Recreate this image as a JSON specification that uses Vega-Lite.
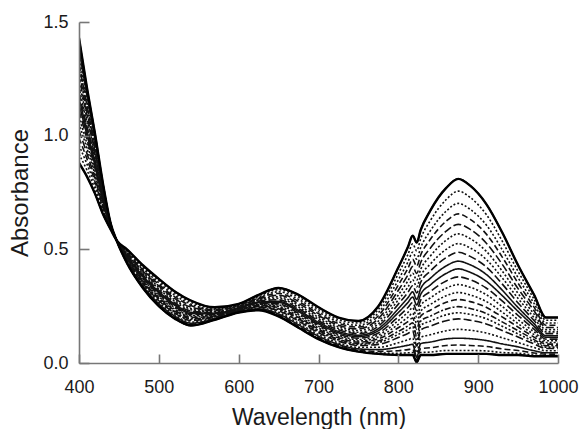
{
"$schema":"https://vega.github.io/schema/vega-lite/v6.json",
"autosize":{"type":"none"},
"width":479,"height":341,
"padding":{"left":79,"top":22,"right":23,"bottom":66},
"background":"white",
"config":{"view":{"stroke":null}},
"data":{"values":[
{"s":0,"w":400,"a":1.43},{"s":0,"w":410,"a":1.21},{"s":0,"w":420,"a":1.01},{"s":0,"w":430,"a":0.79},{"s":0,"w":440,"a":0.61},{"s":0,"w":447,"a":0.54},{"s":0,"w":460,"a":0.44},{"s":0,"w":480,"a":0.33},{"s":0,"w":500,"a":0.25},{"s":0,"w":520,"a":0.195},{"s":0,"w":540,"a":0.165},{"s":0,"w":570,"a":0.19},{"s":0,"w":600,"a":0.222},{"s":0,"w":625,"a":0.232},{"s":0,"w":650,"a":0.205},{"s":0,"w":675,"a":0.155},{"s":0,"w":700,"a":0.105},{"s":0,"w":725,"a":0.07},{"s":0,"w":750,"a":0.05},{"s":0,"w":775,"a":0.04},{"s":0,"w":800,"a":0.035},{"s":0,"w":812,"a":0.035},{"s":0,"w":818,"a":0.035},{"s":0,"w":823,"a":0.003},{"s":0,"w":828,"a":0.035},{"s":0,"w":840,"a":0.035},{"s":0,"w":860,"a":0.04},{"s":0,"w":875,"a":0.04},{"s":0,"w":890,"a":0.04},{"s":0,"w":910,"a":0.04},{"s":0,"w":930,"a":0.035},{"s":0,"w":950,"a":0.035},{"s":0,"w":970,"a":0.03},{"s":0,"w":985,"a":0.03},{"s":0,"w":1000,"a":0.03},
{"s":1,"w":400,"a":1.419},{"s":1,"w":410,"a":1.202},{"s":1,"w":420,"a":1.005},{"s":1,"w":430,"a":0.787},{"s":1,"w":440,"a":0.61},{"s":1,"w":447,"a":0.54},{"s":1,"w":460,"a":0.441},{"s":1,"w":480,"a":0.332},{"s":1,"w":500,"a":0.252},{"s":1,"w":520,"a":0.197},{"s":1,"w":540,"a":0.167},{"s":1,"w":570,"a":0.191},{"s":1,"w":600,"a":0.223},{"s":1,"w":625,"a":0.233},{"s":1,"w":650,"a":0.208},{"s":1,"w":675,"a":0.158},{"s":1,"w":700,"a":0.108},{"s":1,"w":725,"a":0.073},{"s":1,"w":750,"a":0.053},{"s":1,"w":775,"a":0.044},{"s":1,"w":800,"a":0.043},{"s":1,"w":812,"a":0.045},{"s":1,"w":818,"a":0.046},{"s":1,"w":823,"a":0.006},{"s":1,"w":828,"a":0.046},{"s":1,"w":840,"a":0.048},{"s":1,"w":860,"a":0.055},{"s":1,"w":875,"a":0.055},{"s":1,"w":890,"a":0.055},{"s":1,"w":910,"a":0.053},{"s":1,"w":930,"a":0.046},{"s":1,"w":950,"a":0.043},{"s":1,"w":970,"a":0.035},{"s":1,"w":985,"a":0.033},{"s":1,"w":1000,"a":0.033},
{"s":2,"w":400,"a":1.403},{"s":2,"w":410,"a":1.191},{"s":2,"w":420,"a":0.997},{"s":2,"w":430,"a":0.783},{"s":2,"w":440,"a":0.609},{"s":2,"w":447,"a":0.54},{"s":2,"w":460,"a":0.443},{"s":2,"w":480,"a":0.335},{"s":2,"w":500,"a":0.256},{"s":2,"w":520,"a":0.201},{"s":2,"w":540,"a":0.171},{"s":2,"w":570,"a":0.193},{"s":2,"w":600,"a":0.224},{"s":2,"w":625,"a":0.235},{"s":2,"w":650,"a":0.211},{"s":2,"w":675,"a":0.162},{"s":2,"w":700,"a":0.112},{"s":2,"w":725,"a":0.077},{"s":2,"w":750,"a":0.057},{"s":2,"w":775,"a":0.051},{"s":2,"w":800,"a":0.054},{"s":2,"w":812,"a":0.059},{"s":2,"w":818,"a":0.061},{"s":2,"w":823,"a":0.012},{"s":2,"w":828,"a":0.063},{"s":2,"w":840,"a":0.067},{"s":2,"w":860,"a":0.077},{"s":2,"w":875,"a":0.079},{"s":2,"w":890,"a":0.077},{"s":2,"w":910,"a":0.073},{"s":2,"w":930,"a":0.062},{"s":2,"w":950,"a":0.055},{"s":2,"w":970,"a":0.044},{"s":2,"w":985,"a":0.039},{"s":2,"w":1000,"a":0.039},
{"s":3,"w":400,"a":1.381},{"s":3,"w":410,"a":1.175},{"s":3,"w":420,"a":0.986},{"s":3,"w":430,"a":0.778},{"s":3,"w":440,"a":0.608},{"s":3,"w":447,"a":0.54},{"s":3,"w":460,"a":0.445},{"s":3,"w":480,"a":0.339},{"s":3,"w":500,"a":0.261},{"s":3,"w":520,"a":0.206},{"s":3,"w":540,"a":0.175},{"s":3,"w":570,"a":0.195},{"s":3,"w":600,"a":0.225},{"s":3,"w":625,"a":0.238},{"s":3,"w":650,"a":0.216},{"s":3,"w":675,"a":0.168},{"s":3,"w":700,"a":0.118},{"s":3,"w":725,"a":0.082},{"s":3,"w":750,"a":0.062},{"s":3,"w":775,"a":0.059},{"s":3,"w":800,"a":0.07},{"s":3,"w":812,"a":0.078},{"s":3,"w":818,"a":0.082},{"s":3,"w":823,"a":0.025},{"s":3,"w":828,"a":0.085},{"s":3,"w":840,"a":0.092},{"s":3,"w":860,"a":0.106},{"s":3,"w":875,"a":0.109},{"s":3,"w":890,"a":0.107},{"s":3,"w":910,"a":0.099},{"s":3,"w":930,"a":0.084},{"s":3,"w":950,"a":0.071},{"s":3,"w":970,"a":0.054},{"s":3,"w":985,"a":0.045},{"s":3,"w":1000,"a":0.045},
{"s":4,"w":400,"a":1.353},{"s":4,"w":410,"a":1.155},{"s":4,"w":420,"a":0.973},{"s":4,"w":430,"a":0.771},{"s":4,"w":440,"a":0.607},{"s":4,"w":447,"a":0.54},{"s":4,"w":460,"a":0.448},{"s":4,"w":480,"a":0.344},{"s":4,"w":500,"a":0.267},{"s":4,"w":520,"a":0.212},{"s":4,"w":540,"a":0.18},{"s":4,"w":570,"a":0.198},{"s":4,"w":600,"a":0.227},{"s":4,"w":625,"a":0.242},{"s":4,"w":650,"a":0.223},{"s":4,"w":675,"a":0.175},{"s":4,"w":700,"a":0.125},{"s":4,"w":725,"a":0.088},{"s":4,"w":750,"a":0.069},{"s":4,"w":775,"a":0.069},{"s":4,"w":800,"a":0.089},{"s":4,"w":812,"a":0.102},{"s":4,"w":818,"a":0.109},{"s":4,"w":823,"a":0.045},{"s":4,"w":828,"a":0.112},{"s":4,"w":840,"a":0.124},{"s":4,"w":860,"a":0.142},{"s":4,"w":875,"a":0.148},{"s":4,"w":890,"a":0.144},{"s":4,"w":910,"a":0.132},{"s":4,"w":930,"a":0.111},{"s":4,"w":950,"a":0.09},{"s":4,"w":970,"a":0.068},{"s":4,"w":985,"a":0.054},{"s":4,"w":1000,"a":0.054},
{"s":5,"w":400,"a":1.32},{"s":5,"w":410,"a":1.132},{"s":5,"w":420,"a":0.957},{"s":5,"w":430,"a":0.763},{"s":5,"w":440,"a":0.605},{"s":5,"w":447,"a":0.54},{"s":5,"w":460,"a":0.452},{"s":5,"w":480,"a":0.35},{"s":5,"w":500,"a":0.274},{"s":5,"w":520,"a":0.219},{"s":5,"w":540,"a":0.187},{"s":5,"w":570,"a":0.201},{"s":5,"w":600,"a":0.23},{"s":5,"w":625,"a":0.246},{"s":5,"w":650,"a":0.23},{"s":5,"w":675,"a":0.184},{"s":5,"w":700,"a":0.133},{"s":5,"w":725,"a":0.096},{"s":5,"w":750,"a":0.077},{"s":5,"w":775,"a":0.082},{"s":5,"w":800,"a":0.112},{"s":5,"w":812,"a":0.13},{"s":5,"w":818,"a":0.14},{"s":5,"w":823,"a":0.075},{"s":5,"w":828,"a":0.145},{"s":5,"w":840,"a":0.162},{"s":5,"w":860,"a":0.186},{"s":5,"w":875,"a":0.194},{"s":5,"w":890,"a":0.188},{"s":5,"w":910,"a":0.172},{"s":5,"w":930,"a":0.143},{"s":5,"w":950,"a":0.114},{"s":5,"w":970,"a":0.084},{"s":5,"w":985,"a":0.064},{"s":5,"w":1000,"a":0.064},
{"s":6,"w":400,"a":1.282},{"s":6,"w":410,"a":1.105},{"s":6,"w":420,"a":0.938},{"s":6,"w":430,"a":0.754},{"s":6,"w":440,"a":0.603},{"s":6,"w":447,"a":0.54},{"s":6,"w":460,"a":0.456},{"s":6,"w":480,"a":0.357},{"s":6,"w":500,"a":0.282},{"s":6,"w":520,"a":0.227},{"s":6,"w":540,"a":0.195},{"s":6,"w":570,"a":0.205},{"s":6,"w":600,"a":0.232},{"s":6,"w":625,"a":0.25},{"s":6,"w":650,"a":0.239},{"s":6,"w":675,"a":0.194},{"s":6,"w":700,"a":0.143},{"s":6,"w":725,"a":0.105},{"s":6,"w":750,"a":0.086},{"s":6,"w":775,"a":0.097},{"s":6,"w":800,"a":0.139},{"s":6,"w":812,"a":0.163},{"s":6,"w":818,"a":0.177},{"s":6,"w":823,"a":0.12},{"s":6,"w":828,"a":0.184},{"s":6,"w":840,"a":0.206},{"s":6,"w":860,"a":0.237},{"s":6,"w":875,"a":0.248},{"s":6,"w":890,"a":0.24},{"s":6,"w":910,"a":0.218},{"s":6,"w":930,"a":0.181},{"s":6,"w":950,"a":0.142},{"s":6,"w":970,"a":0.103},{"s":6,"w":985,"a":0.076},{"s":6,"w":1000,"a":0.076},
{"s":7,"w":400,"a":1.238},{"s":7,"w":410,"a":1.074},{"s":7,"w":420,"a":0.917},{"s":7,"w":430,"a":0.743},{"s":7,"w":440,"a":0.601},{"s":7,"w":447,"a":0.54},{"s":7,"w":460,"a":0.461},{"s":7,"w":480,"a":0.365},{"s":7,"w":500,"a":0.292},{"s":7,"w":520,"a":0.237},{"s":7,"w":540,"a":0.204},{"s":7,"w":570,"a":0.209},{"s":7,"w":600,"a":0.235},{"s":7,"w":625,"a":0.256},{"s":7,"w":650,"a":0.249},{"s":7,"w":675,"a":0.206},{"s":7,"w":700,"a":0.154},{"s":7,"w":725,"a":0.116},{"s":7,"w":750,"a":0.097},{"s":7,"w":775,"a":0.114},{"s":7,"w":800,"a":0.17},{"s":7,"w":812,"a":0.201},{"s":7,"w":818,"a":0.219},{"s":7,"w":823,"a":0.175},{"s":7,"w":828,"a":0.228},{"s":7,"w":840,"a":0.257},{"s":7,"w":860,"a":0.296},{"s":7,"w":875,"a":0.31},{"s":7,"w":890,"a":0.299},{"s":7,"w":910,"a":0.271},{"s":7,"w":930,"a":0.224},{"s":7,"w":950,"a":0.173},{"s":7,"w":970,"a":0.125},{"s":7,"w":985,"a":0.09},{"s":7,"w":1000,"a":0.09},
{"s":8,"w":400,"a":1.188},{"s":8,"w":410,"a":1.038},{"s":8,"w":420,"a":0.893},{"s":8,"w":430,"a":0.731},{"s":8,"w":440,"a":0.599},{"s":8,"w":447,"a":0.54},{"s":8,"w":460,"a":0.466},{"s":8,"w":480,"a":0.374},{"s":8,"w":500,"a":0.303},{"s":8,"w":520,"a":0.248},{"s":8,"w":540,"a":0.213},{"s":8,"w":570,"a":0.214},{"s":8,"w":600,"a":0.239},{"s":8,"w":625,"a":0.262},{"s":8,"w":650,"a":0.26},{"s":8,"w":675,"a":0.219},{"s":8,"w":700,"a":0.167},{"s":8,"w":725,"a":0.127},{"s":8,"w":750,"a":0.109},{"s":8,"w":775,"a":0.132},{"s":8,"w":800,"a":0.204},{"s":8,"w":812,"a":0.244},{"s":8,"w":818,"a":0.266},{"s":8,"w":823,"a":0.23},{"s":8,"w":828,"a":0.277},{"s":8,"w":840,"a":0.314},{"s":8,"w":860,"a":0.361},{"s":8,"w":875,"a":0.379},{"s":8,"w":890,"a":0.366},{"s":8,"w":910,"a":0.33},{"s":8,"w":930,"a":0.273},{"s":8,"w":950,"a":0.209},{"s":8,"w":970,"a":0.149},{"s":8,"w":985,"a":0.105},{"s":8,"w":1000,"a":0.105},
{"s":9,"w":400,"a":1.139},{"s":9,"w":410,"a":1.003},{"s":9,"w":420,"a":0.87},{"s":9,"w":430,"a":0.718},{"s":9,"w":440,"a":0.597},{"s":9,"w":447,"a":0.54},{"s":9,"w":460,"a":0.472},{"s":9,"w":480,"a":0.383},{"s":9,"w":500,"a":0.314},{"s":9,"w":520,"a":0.259},{"s":9,"w":540,"a":0.223},{"s":9,"w":570,"a":0.219},{"s":9,"w":600,"a":0.242},{"s":9,"w":625,"a":0.268},{"s":9,"w":650,"a":0.271},{"s":9,"w":675,"a":0.232},{"s":9,"w":700,"a":0.179},{"s":9,"w":725,"a":0.139},{"s":9,"w":750,"a":0.122},{"s":9,"w":775,"a":0.151},{"s":9,"w":800,"a":0.239},{"s":9,"w":812,"a":0.287},{"s":9,"w":818,"a":0.313},{"s":9,"w":823,"a":0.28},{"s":9,"w":828,"a":0.327},{"s":9,"w":840,"a":0.372},{"s":9,"w":860,"a":0.427},{"s":9,"w":875,"a":0.448},{"s":9,"w":890,"a":0.432},{"s":9,"w":910,"a":0.39},{"s":9,"w":930,"a":0.321},{"s":9,"w":950,"a":0.244},{"s":9,"w":970,"a":0.173},{"s":9,"w":985,"a":0.12},{"s":9,"w":1000,"a":0.12},
{"s":10,"w":400,"a":1.084},{"s":10,"w":410,"a":0.964},{"s":10,"w":420,"a":0.843},{"s":10,"w":430,"a":0.705},{"s":10,"w":440,"a":0.594},{"s":10,"w":447,"a":0.54},{"s":10,"w":460,"a":0.478},{"s":10,"w":480,"a":0.393},{"s":10,"w":500,"a":0.326},{"s":10,"w":520,"a":0.271},{"s":10,"w":540,"a":0.234},{"s":10,"w":570,"a":0.225},{"s":10,"w":600,"a":0.246},{"s":10,"w":625,"a":0.275},{"s":10,"w":650,"a":0.284},{"s":10,"w":675,"a":0.246},{"s":10,"w":700,"a":0.193},{"s":10,"w":725,"a":0.152},{"s":10,"w":750,"a":0.135},{"s":10,"w":775,"a":0.172},{"s":10,"w":800,"a":0.278},{"s":10,"w":812,"a":0.334},{"s":10,"w":818,"a":0.366},{"s":10,"w":823,"a":0.335},{"s":10,"w":828,"a":0.382},{"s":10,"w":840,"a":0.435},{"s":10,"w":860,"a":0.5},{"s":10,"w":875,"a":0.525},{"s":10,"w":890,"a":0.506},{"s":10,"w":910,"a":0.456},{"s":10,"w":930,"a":0.375},{"s":10,"w":950,"a":0.284},{"s":10,"w":970,"a":0.2},{"s":10,"w":985,"a":0.137},{"s":10,"w":1000,"a":0.137},
{"s":11,"w":400,"a":1.023},{"s":11,"w":410,"a":0.921},{"s":11,"w":420,"a":0.814},{"s":11,"w":430,"a":0.69},{"s":11,"w":440,"a":0.592},{"s":11,"w":447,"a":0.54},{"s":11,"w":460,"a":0.484},{"s":11,"w":480,"a":0.404},{"s":11,"w":500,"a":0.339},{"s":11,"w":520,"a":0.284},{"s":11,"w":540,"a":0.246},{"s":11,"w":570,"a":0.231},{"s":11,"w":600,"a":0.25},{"s":11,"w":625,"a":0.282},{"s":11,"w":650,"a":0.298},{"s":11,"w":675,"a":0.262},{"s":11,"w":700,"a":0.209},{"s":11,"w":725,"a":0.166},{"s":11,"w":750,"a":0.15},{"s":11,"w":775,"a":0.195},{"s":11,"w":800,"a":0.32},{"s":11,"w":812,"a":0.387},{"s":11,"w":818,"a":0.424},{"s":11,"w":823,"a":0.394},{"s":11,"w":828,"a":0.442},{"s":11,"w":840,"a":0.505},{"s":11,"w":860,"a":0.58},{"s":11,"w":875,"a":0.61},{"s":11,"w":890,"a":0.588},{"s":11,"w":910,"a":0.528},{"s":11,"w":930,"a":0.435},{"s":11,"w":950,"a":0.327},{"s":11,"w":970,"a":0.23},{"s":11,"w":985,"a":0.156},{"s":11,"w":1000,"a":0.156},
{"s":12,"w":400,"a":0.957},{"s":12,"w":410,"a":0.875},{"s":12,"w":420,"a":0.782},{"s":12,"w":430,"a":0.674},{"s":12,"w":440,"a":0.589},{"s":12,"w":447,"a":0.54},{"s":12,"w":460,"a":0.492},{"s":12,"w":480,"a":0.416},{"s":12,"w":500,"a":0.353},{"s":12,"w":520,"a":0.298},{"s":12,"w":540,"a":0.26},{"s":12,"w":570,"a":0.237},{"s":12,"w":600,"a":0.255},{"s":12,"w":625,"a":0.29},{"s":12,"w":650,"a":0.313},{"s":12,"w":675,"a":0.28},{"s":12,"w":700,"a":0.225},{"s":12,"w":725,"a":0.182},{"s":12,"w":750,"a":0.166},{"s":12,"w":775,"a":0.221},{"s":12,"w":800,"a":0.366},{"s":12,"w":812,"a":0.444},{"s":12,"w":818,"a":0.487},{"s":12,"w":823,"a":0.457},{"s":12,"w":828,"a":0.508},{"s":12,"w":840,"a":0.581},{"s":12,"w":860,"a":0.668},{"s":12,"w":875,"a":0.702},{"s":12,"w":890,"a":0.676},{"s":12,"w":910,"a":0.608},{"s":12,"w":930,"a":0.499},{"s":12,"w":950,"a":0.375},{"s":12,"w":970,"a":0.262},{"s":12,"w":985,"a":0.176},{"s":12,"w":1000,"a":0.176},
{"s":13,"w":400,"a":0.88},{"s":13,"w":410,"a":0.82},{"s":13,"w":420,"a":0.745},{"s":13,"w":430,"a":0.655},{"s":13,"w":440,"a":0.585},{"s":13,"w":447,"a":0.54},{"s":13,"w":460,"a":0.5},{"s":13,"w":480,"a":0.43},{"s":13,"w":500,"a":0.37},{"s":13,"w":520,"a":0.315},{"s":13,"w":540,"a":0.275},{"s":13,"w":570,"a":0.245},{"s":13,"w":600,"a":0.26},{"s":13,"w":625,"a":0.3},{"s":13,"w":650,"a":0.33},{"s":13,"w":675,"a":0.3},{"s":13,"w":700,"a":0.245},{"s":13,"w":725,"a":0.2},{"s":13,"w":750,"a":0.185},{"s":13,"w":775,"a":0.25},{"s":13,"w":800,"a":0.42},{"s":13,"w":812,"a":0.51},{"s":13,"w":818,"a":0.56},{"s":13,"w":823,"a":0.53},{"s":13,"w":828,"a":0.585},{"s":13,"w":840,"a":0.67},{"s":13,"w":860,"a":0.77},{"s":13,"w":875,"a":0.81},{"s":13,"w":890,"a":0.78},{"s":13,"w":910,"a":0.7},{"s":13,"w":930,"a":0.575},{"s":13,"w":950,"a":0.43},{"s":13,"w":970,"a":0.3},{"s":13,"w":985,"a":0.2},{"s":13,"w":1000,"a":0.2},
{"s":14,"w":400,"a":0.919},{"s":14,"w":410,"a":0.848},{"s":14,"w":420,"a":0.764},{"s":14,"w":430,"a":0.665},{"s":14,"w":440,"a":0.587},{"s":14,"w":447,"a":0.54},{"s":14,"w":460,"a":0.496},{"s":14,"w":480,"a":0.423},{"s":14,"w":500,"a":0.362},{"s":14,"w":520,"a":0.307},{"s":14,"w":540,"a":0.268},{"s":14,"w":570,"a":0.241},{"s":14,"w":600,"a":0.258},{"s":14,"w":625,"a":0.295},{"s":14,"w":650,"a":0.322},{"s":14,"w":675,"a":0.29},{"s":14,"w":700,"a":0.235},{"s":14,"w":725,"a":0.191},{"s":14,"w":750,"a":0.176},{"s":14,"w":775,"a":0.236},{"s":14,"w":800,"a":0.393},{"s":14,"w":812,"a":0.477},{"s":14,"w":818,"a":0.524},{"s":14,"w":823,"a":0.494},{"s":14,"w":828,"a":0.547},{"s":14,"w":840,"a":0.626},{"s":14,"w":860,"a":0.719},{"s":14,"w":875,"a":0.756},{"s":14,"w":890,"a":0.728},{"s":14,"w":910,"a":0.654},{"s":14,"w":930,"a":0.537},{"s":14,"w":950,"a":0.403},{"s":14,"w":970,"a":0.281},{"s":14,"w":985,"a":0.188},{"s":14,"w":1000,"a":0.188},
{"s":15,"w":400,"a":0.99},{"s":15,"w":410,"a":0.898},{"s":15,"w":420,"a":0.798},{"s":15,"w":430,"a":0.682},{"s":15,"w":440,"a":0.591},{"s":15,"w":447,"a":0.54},{"s":15,"w":460,"a":0.488},{"s":15,"w":480,"a":0.41},{"s":15,"w":500,"a":0.346},{"s":15,"w":520,"a":0.291},{"s":15,"w":540,"a":0.253},{"s":15,"w":570,"a":0.234},{"s":15,"w":600,"a":0.253},{"s":15,"w":625,"a":0.286},{"s":15,"w":650,"a":0.306},{"s":15,"w":675,"a":0.271},{"s":15,"w":700,"a":0.217},{"s":15,"w":725,"a":0.174},{"s":15,"w":750,"a":0.158},{"s":15,"w":775,"a":0.208},{"s":15,"w":800,"a":0.343},{"s":15,"w":812,"a":0.416},{"s":15,"w":818,"a":0.456},{"s":15,"w":823,"a":0.426},{"s":15,"w":828,"a":0.475},{"s":15,"w":840,"a":0.543},{"s":15,"w":860,"a":0.624},{"s":15,"w":875,"a":0.656},{"s":15,"w":890,"a":0.632},{"s":15,"w":910,"a":0.568},{"s":15,"w":930,"a":0.467},{"s":15,"w":950,"a":0.351},{"s":15,"w":970,"a":0.246},{"s":15,"w":985,"a":0.166},{"s":15,"w":1000,"a":0.166},
{"s":16,"w":400,"a":1.054},{"s":16,"w":410,"a":0.943},{"s":16,"w":420,"a":0.829},{"s":16,"w":430,"a":0.698},{"s":16,"w":440,"a":0.593},{"s":16,"w":447,"a":0.54},{"s":16,"w":460,"a":0.481},{"s":16,"w":480,"a":0.399},{"s":16,"w":500,"a":0.333},{"s":16,"w":520,"a":0.278},{"s":16,"w":540,"a":0.24},{"s":16,"w":570,"a":0.228},{"s":16,"w":600,"a":0.248},{"s":16,"w":625,"a":0.279},{"s":16,"w":650,"a":0.291},{"s":16,"w":675,"a":0.254},{"s":16,"w":700,"a":0.201},{"s":16,"w":725,"a":0.159},{"s":16,"w":750,"a":0.143},{"s":16,"w":775,"a":0.184},{"s":16,"w":800,"a":0.299},{"s":16,"w":812,"a":0.361},{"s":16,"w":818,"a":0.395},{"s":16,"w":823,"a":0.365},{"s":16,"w":828,"a":0.412},{"s":16,"w":840,"a":0.47},{"s":16,"w":860,"a":0.54},{"s":16,"w":875,"a":0.568},{"s":16,"w":890,"a":0.547},{"s":16,"w":910,"a":0.492},{"s":16,"w":930,"a":0.405},{"s":16,"w":950,"a":0.306},{"s":16,"w":970,"a":0.215},{"s":16,"w":985,"a":0.147},{"s":16,"w":1000,"a":0.147},
{"s":17,"w":400,"a":1.112},{"s":17,"w":410,"a":0.984},{"s":17,"w":420,"a":0.857},{"s":17,"w":430,"a":0.712},{"s":17,"w":440,"a":0.596},{"s":17,"w":447,"a":0.54},{"s":17,"w":460,"a":0.475},{"s":17,"w":480,"a":0.388},{"s":17,"w":500,"a":0.32},{"s":17,"w":520,"a":0.265},{"s":17,"w":540,"a":0.229},{"s":17,"w":570,"a":0.222},{"s":17,"w":600,"a":0.244},{"s":17,"w":625,"a":0.272},{"s":17,"w":650,"a":0.278},{"s":17,"w":675,"a":0.239},{"s":17,"w":700,"a":0.186},{"s":17,"w":725,"a":0.146},{"s":17,"w":750,"a":0.129},{"s":17,"w":775,"a":0.162},{"s":17,"w":800,"a":0.259},{"s":17,"w":812,"a":0.311},{"s":17,"w":818,"a":0.34},{"s":17,"w":823,"a":0.308},{"s":17,"w":828,"a":0.355},{"s":17,"w":840,"a":0.404},{"s":17,"w":860,"a":0.464},{"s":17,"w":875,"a":0.487},{"s":17,"w":890,"a":0.469},{"s":17,"w":910,"a":0.423},{"s":17,"w":930,"a":0.348},{"s":17,"w":950,"a":0.264},{"s":17,"w":970,"a":0.187},{"s":17,"w":985,"a":0.129},{"s":17,"w":1000,"a":0.129},
{"s":18,"w":400,"a":1.164},{"s":18,"w":410,"a":1.021},{"s":18,"w":420,"a":0.882},{"s":18,"w":430,"a":0.725},{"s":18,"w":440,"a":0.598},{"s":18,"w":447,"a":0.54},{"s":18,"w":460,"a":0.469},{"s":18,"w":480,"a":0.379},{"s":18,"w":500,"a":0.309},{"s":18,"w":520,"a":0.254},{"s":18,"w":540,"a":0.218},{"s":18,"w":570,"a":0.217},{"s":18,"w":600,"a":0.241},{"s":18,"w":625,"a":0.265},{"s":18,"w":650,"a":0.266},{"s":18,"w":675,"a":0.226},{"s":18,"w":700,"a":0.173},{"s":18,"w":725,"a":0.133},{"s":18,"w":750,"a":0.116},{"s":18,"w":775,"a":0.142},{"s":18,"w":800,"a":0.222},{"s":18,"w":812,"a":0.266},{"s":18,"w":818,"a":0.29},{"s":18,"w":823,"a":0.255},{"s":18,"w":828,"a":0.302},{"s":18,"w":840,"a":0.343},{"s":18,"w":860,"a":0.394},{"s":18,"w":875,"a":0.414},{"s":18,"w":890,"a":0.399},{"s":18,"w":910,"a":0.36},{"s":18,"w":930,"a":0.297},{"s":18,"w":950,"a":0.227},{"s":18,"w":970,"a":0.161},{"s":18,"w":985,"a":0.113},{"s":18,"w":1000,"a":0.113},
{"s":19,"w":400,"a":1.213},{"s":19,"w":410,"a":1.056},{"s":19,"w":420,"a":0.905},{"s":19,"w":430,"a":0.737},{"s":19,"w":440,"a":0.6},{"s":19,"w":447,"a":0.54},{"s":19,"w":460,"a":0.464},{"s":19,"w":480,"a":0.37},{"s":19,"w":500,"a":0.298},{"s":19,"w":520,"a":0.243},{"s":19,"w":540,"a":0.209},{"s":19,"w":570,"a":0.212},{"s":19,"w":600,"a":0.237},{"s":19,"w":625,"a":0.259},{"s":19,"w":650,"a":0.255},{"s":19,"w":675,"a":0.213},{"s":19,"w":700,"a":0.161},{"s":19,"w":725,"a":0.122},{"s":19,"w":750,"a":0.103},{"s":19,"w":775,"a":0.123},{"s":19,"w":800,"a":0.187},{"s":19,"w":812,"a":0.223},{"s":19,"w":818,"a":0.243},{"s":19,"w":823,"a":0.203},{"s":19,"w":828,"a":0.253},{"s":19,"w":840,"a":0.286},{"s":19,"w":860,"a":0.329},{"s":19,"w":875,"a":0.345},{"s":19,"w":890,"a":0.333},{"s":19,"w":910,"a":0.301},{"s":19,"w":930,"a":0.249},{"s":19,"w":950,"a":0.191},{"s":19,"w":970,"a":0.137},{"s":19,"w":985,"a":0.098},{"s":19,"w":1000,"a":0.098},
{"s":20,"w":400,"a":1.26},{"s":20,"w":410,"a":1.09},{"s":20,"w":420,"a":0.928},{"s":20,"w":430,"a":0.749},{"s":20,"w":440,"a":0.602},{"s":20,"w":447,"a":0.54},{"s":20,"w":460,"a":0.459},{"s":20,"w":480,"a":0.361},{"s":20,"w":500,"a":0.287},{"s":20,"w":520,"a":0.232},{"s":20,"w":540,"a":0.2},{"s":20,"w":570,"a":0.207},{"s":20,"w":600,"a":0.234},{"s":20,"w":625,"a":0.253},{"s":20,"w":650,"a":0.244},{"s":20,"w":675,"a":0.2},{"s":20,"w":700,"a":0.149},{"s":20,"w":725,"a":0.111},{"s":20,"w":750,"a":0.092},{"s":20,"w":775,"a":0.106},{"s":20,"w":800,"a":0.155},{"s":20,"w":812,"a":0.182},{"s":20,"w":818,"a":0.198},{"s":20,"w":823,"a":0.148},{"s":20,"w":828,"a":0.206},{"s":20,"w":840,"a":0.232},{"s":20,"w":860,"a":0.267},{"s":20,"w":875,"a":0.279},{"s":20,"w":890,"a":0.27},{"s":20,"w":910,"a":0.245},{"s":20,"w":930,"a":0.203},{"s":20,"w":950,"a":0.158},{"s":20,"w":970,"a":0.114},{"s":20,"w":985,"a":0.083},{"s":20,"w":1000,"a":0.083},
{"s":21,"w":400,"a":1.301},{"s":21,"w":410,"a":1.119},{"s":21,"w":420,"a":0.948},{"s":21,"w":430,"a":0.759},{"s":21,"w":440,"a":0.604},{"s":21,"w":447,"a":0.54},{"s":21,"w":460,"a":0.454},{"s":21,"w":480,"a":0.354},{"s":21,"w":500,"a":0.278},{"s":21,"w":520,"a":0.223},{"s":21,"w":540,"a":0.191},{"s":21,"w":570,"a":0.203},{"s":21,"w":600,"a":0.231},{"s":21,"w":625,"a":0.248},{"s":21,"w":650,"a":0.235},{"s":21,"w":675,"a":0.189},{"s":21,"w":700,"a":0.138},{"s":21,"w":725,"a":0.101},{"s":21,"w":750,"a":0.082},{"s":21,"w":775,"a":0.09},{"s":21,"w":800,"a":0.126},{"s":21,"w":812,"a":0.147},{"s":21,"w":818,"a":0.159},{"s":21,"w":823,"a":0.098},{"s":21,"w":828,"a":0.165},{"s":21,"w":840,"a":0.184},{"s":21,"w":860,"a":0.212},{"s":21,"w":875,"a":0.221},{"s":21,"w":890,"a":0.214},{"s":21,"w":910,"a":0.195},{"s":21,"w":930,"a":0.162},{"s":21,"w":950,"a":0.128},{"s":21,"w":970,"a":0.094},{"s":21,"w":985,"a":0.07},{"s":21,"w":1000,"a":0.07}
]},
"encoding":{
"x":{"field":"w","type":"quantitative","scale":{"domain":[400,1000],"nice":false,"zero":false},
"axis":{"title":"Wavelength (nm)","values":[400,500,600,700,800,900,1000],"format":"d","grid":false,"tickSize":-9,"labelPadding":24,"titlePadding":10,"domainColor":"#777","tickColor":"#777","domainWidth":1.6,"tickWidth":1.6,"zindex":1,"labelFont":"Liberation Sans","titleFont":"Liberation Sans","labelFontSize":18,"titleFontSize":23,"titleFontWeight":"normal","labelColor":"#1a1a1a","titleColor":"#1a1a1a","labelFlush":false,"labelOverlap":false}},
"y":{"field":"a","type":"quantitative","scale":{"domain":[0,1.5],"nice":false},
"axis":{"title":"Absorbance","values":[0,0.5,1,1.5],"format":".1f","grid":false,"tickSize":-10,"labelPadding":21,"titlePadding":10,"domainColor":"#777","tickColor":"#777","domainWidth":1.6,"tickWidth":1.6,"zindex":1,"labelFont":"Liberation Sans","titleFont":"Liberation Sans","labelFontSize":18,"titleFontSize":24,"titleFontWeight":"normal","labelColor":"#1a1a1a","titleColor":"#1a1a1a","labelFlush":false,"labelOverlap":false}}
},
"layer":[
{"mark":{"type":"line","interpolate":"monotone","color":"#111","strokeWidth":1.6,"clip":true},
"encoding":{"detail":{"field":"s","type":"ordinal"},
"strokeDash":{"field":"s","type":"ordinal","legend":null,"scale":{"range":[[1,0],[2,2],[6,3],[1,0],[2,2],[8,3],[6,2,2,2],[2,2],[8,3],[1,0],[2,2],[8,3],[2,2],[1,0],[2,2],[6,3],[2,2],[8,3],[1,0],[2,2],[6,3],[2,2]]}}}},
{"transform":[{"filter":"datum.s == 0 || datum.s == 13"}],
"mark":{"type":"line","interpolate":"monotone","color":"#000","strokeWidth":2.4,"clip":true},
"encoding":{"detail":{"field":"s","type":"ordinal"}}}
]
}
